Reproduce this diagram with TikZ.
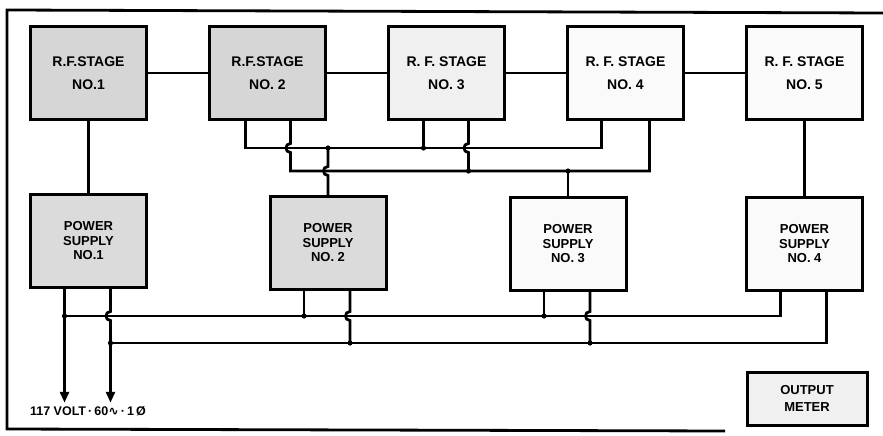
\documentclass[tikz,border=0pt]{standalone}
\usepackage{fontspec}
\setmainfont{Liberation Sans}
\newfontfamily\wavefont{DejaVu Sans}
\usetikzlibrary{positioning,arrows.meta,calc}

\begin{document}
\begin{tikzpicture}[
  x=1pt, y=-1pt,
  node distance=60pt and 60pt,
  stagebox/.style={rectangle, draw, line width=3pt, align=center, inner sep=0pt,
              minimum width=116pt, minimum height=93pt,
              font=\fontsize{14}{23}\selectfont\bfseries},
  supplybox/.style={stagebox, font=\fontsize{13}{14.5}\selectfont\bfseries},
  meterbox/.style={stagebox, minimum width=120pt, minimum height=53pt, fill=gray!12,
              font=\fontsize{13}{17}\selectfont\bfseries},
  wire/.style={line width=2.8pt},
  feed/.style={wire, -{Triangle[length=11pt,width=9pt]}},
  dot/.style={fill=black}
]
\useasboundingbox (0,0) rectangle (883,436);

% frame
\draw[line width=2.8pt] (883,13) -- (7,10) -- (7,429) -- (725,431);

% R.F. stages
\node[stagebox, fill=gray!32] (rf1) at (88.5,73) {R.F.STAGE\\NO.1};
\node[stagebox, fill=gray!32, right=of rf1] (rf2) {R.F.STAGE\\NO. 2};
\node[stagebox, fill=gray!12, right=of rf2] (rf3) {R. F. STAGE\\NO. 3};
\node[stagebox, fill=gray!4,  right=of rf3] (rf4) {R. F. STAGE\\NO. 4};
\node[stagebox, fill=gray!4,  right=of rf4] (rf5) {R. F. STAGE\\NO. 5};

% power supplies
\node[supplybox, fill=gray!28, below=72pt of rf1] (ps1) {POWER\\SUPPLY\\NO.1};
\node[supplybox, fill=gray!28] (ps2) at (328,243) {POWER\\SUPPLY\\NO. 2};
\node[supplybox, fill=gray!4]  (ps3) at (568,244) {POWER\\SUPPLY\\NO. 3};
\node[supplybox, fill=gray!4, below=75pt of rf5] (ps4) {POWER\\SUPPLY\\NO. 4};

% meter and mains label
\node[meterbox] (meter) at (807,398.5) {OUTPUT\\METER};
\node[font=\fontsize{12.5}{14}\selectfont\bfseries] (mains) at (88,411)
  {117 VOLT\,·\,60{\wavefont ∿}\,·\,1\,Ø};

% rails and legs
\coordinate (railA) at (0,148);
\coordinate (railB) at (0,171);
\coordinate (railC) at (0,316);
\coordinate (railD) at (0,343);
\coordinate (rf2a) at ([xshift=-22pt]rf2.south);
\coordinate (rf2b) at ([xshift=23pt]rf2.south);
\coordinate (rf3a) at ([xshift=-23pt]rf3.south);
\coordinate (rf3b) at ([xshift=22pt]rf3.south);
\coordinate (rf4a) at ([xshift=-24pt]rf4.south);
\coordinate (rf4b) at ([xshift=24pt]rf4.south);
\coordinate (ps1a) at ([xshift=-24pt]ps1.south);
\coordinate (ps1b) at ([xshift=22pt]ps1.south);
\coordinate (ps2a) at ([xshift=-24pt]ps2.south);
\coordinate (ps2b) at ([xshift=22pt]ps2.south);
\coordinate (ps3a) at ([xshift=-24pt]ps3.south);
\coordinate (ps3b) at ([xshift=22pt]ps3.south);
\coordinate (ps4a) at ([xshift=-24pt]ps4.south);
\coordinate (ps4b) at ([xshift=22pt]ps4.south);

% R.F. chain
\draw[wire] (rf1) -- (rf2);
\draw[wire] (rf2) -- (rf3);
\draw[wire] (rf3) -- (rf4);
\draw[wire] (rf4) -- (rf5);
\draw[wire] (rf1) -- (ps1);
\draw[wire] (rf5) -- (ps4);

% R.F. rails
\draw[wire] (rf2a) |- (railA -| rf4a) -- (rf4a);
\draw[wire] (rf2b) -- ($(rf2b |- railA)+(0,-4.5)$) .. controls +(-6,0) and +(-6,0) .. ++(0,9)
  |- (railB -| rf4b) -- (rf4b);
\draw[wire] (rf3a) -- (rf3a |- railA);
\draw[wire] (rf3b) -- ($(rf3b |- railA)+(0,-4.5)$) .. controls +(-6,0) and +(-6,0) .. ++(0,9)
  -- (rf3b |- railB);
\draw[wire] (ps2.north |- railA) -- ($(ps2.north |- railB)+(0,-4.5)$) .. controls +(-6,0) and +(-6,0) .. ++(0,9)
  -- (ps2.north);
\draw[wire] (ps3.north |- railB) -- (ps3.north);
\fill[dot] (rf3a |- railA) circle (2.6pt);
\fill[dot] (rf3b |- railB) circle (2.6pt);
\fill[dot] (ps2.north |- railA) circle (2.6pt);
\fill[dot] (ps3.north |- railB) circle (2.6pt);

% supply rails
\draw[feed] (ps1a) -- (ps1a |- mains.north);
\draw[feed] (ps1b) -- ($(ps1b |- railC)+(0,-4.5)$) .. controls +(-6,0) and +(-6,0) .. ++(0,9)
  -- (ps1b |- mains.north);
\draw[wire] (ps1a |- railC) -| (ps4a);
\draw[wire] (ps1b |- railD) -| (ps4b);
\draw[wire] (ps2a) -- (ps2a |- railC);
\draw[wire] (ps2b) -- ($(ps2b |- railC)+(0,-4.5)$) .. controls +(-6,0) and +(-6,0) .. ++(0,9)
  -- (ps2b |- railD);
\draw[wire] (ps3a) -- (ps3a |- railC);
\draw[wire] (ps3b) -- ($(ps3b |- railC)+(0,-4.5)$) .. controls +(-6,0) and +(-6,0) .. ++(0,9)
  -- (ps3b |- railD);
\fill[dot] (ps1a |- railC) circle (2.6pt);
\fill[dot] (ps1b |- railD) circle (2.6pt);
\fill[dot] (ps2a |- railC) circle (2.6pt);
\fill[dot] (ps2b |- railD) circle (2.6pt);
\fill[dot] (ps3a |- railC) circle (2.6pt);
\fill[dot] (ps3b |- railD) circle (2.6pt);

\end{tikzpicture}
\end{document}
